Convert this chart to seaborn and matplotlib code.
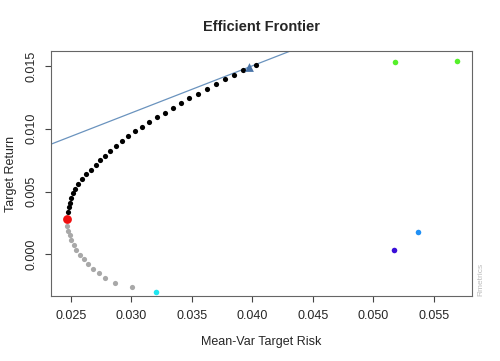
import numpy as np
import pandas as pd
import seaborn as sns
import matplotlib
matplotlib.use('Agg')
import matplotlib.pyplot as plt

# Efficient frontier (upper branch, black points)
frontier_risk = [0.02475, 0.02483, 0.02492, 0.02502, 0.02519, 0.02538, 0.02560, 0.02591,
                 0.02626, 0.02665, 0.02706, 0.02742, 0.02786, 0.02827, 0.02872, 0.02921,
                 0.02976, 0.03029, 0.03091, 0.03149, 0.03210, 0.03276, 0.03342, 0.03411,
                 0.03479, 0.03551, 0.03623, 0.03697, 0.03772, 0.03846, 0.03923, 0.04030]
frontier_return = [0.00337, 0.00374, 0.00411, 0.00449, 0.00486, 0.00523, 0.00560, 0.00600,
                   0.00637, 0.00674, 0.00711, 0.00749, 0.00785, 0.00825, 0.00863, 0.00903,
                   0.00940, 0.00980, 0.01014, 0.01052, 0.01091, 0.01128, 0.01165, 0.01205,
                   0.01243, 0.01279, 0.01317, 0.01357, 0.01394, 0.01431, 0.01468, 0.01506]

# lower (inefficient) branch, grey points
lower_risk = [0.02472, 0.02480, 0.02492, 0.02505, 0.02525, 0.02546, 0.02574, 0.02607,
              0.02643, 0.02684, 0.02731, 0.02786, 0.02866, 0.03004]
lower_return = [0.00228, 0.00188, 0.00151, 0.00114, 0.00076, 0.00037, -0.00003, -0.00040,
                -0.00077, -0.00115, -0.00151, -0.00189, -0.00226, -0.00263]

# minimum variance and tangency portfolios
minvar_risk, minvar_return = 0.02469, 0.00281
tangency_risk, tangency_return = 0.03970, 0.01490
risk_free = 0.0

# single assets
asset_risk = [0.03202, 0.05170, 0.05366, 0.05181, 0.05688]
asset_return = [-0.00300, 0.00034, 0.00175, 0.01532, 0.01542]
asset_colors = ['#1EE6F0', '#3A0FD8', '#2090F5', '#55F02A', '#55F02A']

sns.set_style('ticks')
plt.rcParams['font.family'] = ['Liberation Sans', 'DejaVu Sans']

fig, ax = plt.subplots(figsize=(5, 3.61), dpi=100)
fig.subplots_adjust(left=0.102, right=0.944, top=0.859, bottom=0.180)

# capital market line from the risk free rate through the tangency portfolio
ax.axline((0, risk_free), (tangency_risk, tangency_return), color='#6A93BE', lw=0.9, zorder=1)

sns.scatterplot(x=lower_risk, y=lower_return, color='#A8A8A8', s=14, linewidth=0, ax=ax, zorder=2)
sns.scatterplot(x=frontier_risk, y=frontier_return, color='black', s=14, linewidth=0, ax=ax, zorder=2)
sns.scatterplot(x=[minvar_risk], y=[minvar_return], color='#F01010', s=40, linewidth=0, ax=ax, zorder=3)
sns.scatterplot(x=[tangency_risk], y=[tangency_return], color='#4A74A8', marker='^', s=40,
                linewidth=0, ax=ax, zorder=3)
assets = pd.DataFrame({'risk': asset_risk, 'ret': asset_return, 'col': asset_colors})
for _, r in assets.iterrows():
    sns.scatterplot(x=[r['risk']], y=[r['ret']], color=r['col'], s=16, linewidth=0, ax=ax, zorder=3)

ax.set_xlim(0.02337, 0.05814)
ax.set_ylim(-0.00332, 0.0162)
ax.set_xticks([0.025, 0.030, 0.035, 0.040, 0.045, 0.050, 0.055])
ax.set_yticks([0.000, 0.005, 0.010, 0.015])
ax.xaxis.set_major_formatter(plt.FormatStrFormatter('%.3f'))
ax.yaxis.set_major_formatter(plt.FormatStrFormatter('%.3f'))
ax.tick_params(axis='both', labelsize=9, length=4, width=0.8, color='#444444', pad=6)
plt.setp(ax.get_yticklabels(), rotation=90, va='center')

for sp in ax.spines.values():
    sp.set_visible(True)
    sp.set_color('#666666')
    sp.set_linewidth(0.8)

ax.set_title('Efficient Frontier', fontsize=10.5, fontweight='bold', pad=14)
ax.set_xlabel('Mean-Var Target Risk', fontsize=9, labelpad=10)
ax.set_ylabel('Target Return', fontsize=9, labelpad=6)
fig.text(0.962, 0.180, 'Rmetrics', rotation=90, fontsize=6, color='#BBBBBB', va='bottom', ha='center')

fig.savefig('out.png', dpi=100)
